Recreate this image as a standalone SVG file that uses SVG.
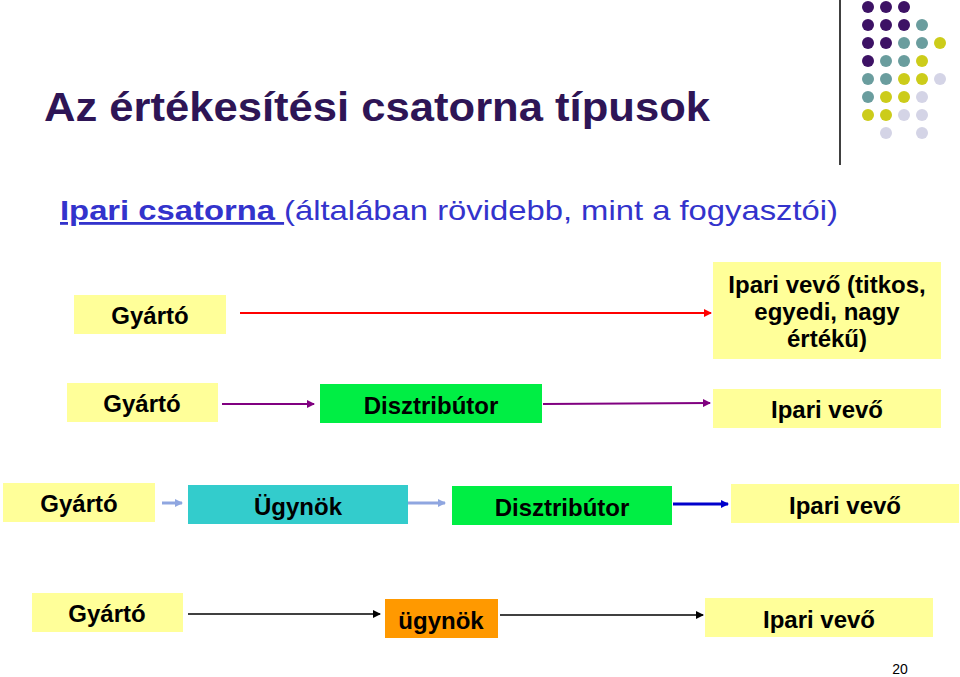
<svg xmlns="http://www.w3.org/2000/svg" width="960" height="677" viewBox="0 0 960 677">
<style>
text{font-family:"Liberation Sans",Arial,sans-serif;font-weight:bold;fill:#000}
.y{fill:#ffff99}
.n{font-size:24px;text-anchor:middle}
.P{fill:#3d1265}.T{fill:#6a9d9e}.Y{fill:#cccc1a}.L{fill:#d4d4e6}
</style>
<defs>
<marker id="mr" markerWidth="8" markerHeight="8" refX="7" refY="4" orient="auto" markerUnits="userSpaceOnUse"><path d="M0,0L8,4L0,8z" fill="#ff0000"/></marker>
<marker id="mp" markerWidth="8" markerHeight="8" refX="7" refY="4" orient="auto" markerUnits="userSpaceOnUse"><path d="M0,0L8,4L0,8z" fill="#800080"/></marker>
<marker id="ml" markerWidth="8" markerHeight="8" refX="7" refY="4" orient="auto" markerUnits="userSpaceOnUse"><path d="M0,0L8,4L0,8z" fill="#8fa6e0"/></marker>
<marker id="mb" markerWidth="8" markerHeight="8" refX="7" refY="4" orient="auto" markerUnits="userSpaceOnUse"><path d="M0,0L8,4L0,8z" fill="#0000cc"/></marker>
<marker id="mk" markerWidth="8" markerHeight="8" refX="7" refY="4" orient="auto" markerUnits="userSpaceOnUse"><path d="M0,0L8,4L0,8z" fill="#000"/></marker>
</defs>
<line x1="840" y1="0" x2="840" y2="165" stroke="#000" stroke-width="1.5"/>
<g id="dots">
<circle class="P" cx="868" cy="7" r="6"/><circle class="P" cx="886" cy="7" r="6"/><circle class="P" cx="904" cy="7" r="6"/>
<circle class="P" cx="868" cy="25" r="6"/><circle class="P" cx="886" cy="25" r="6"/><circle class="P" cx="904" cy="25" r="6"/><circle class="T" cx="922" cy="25" r="6"/>
<circle class="P" cx="868" cy="43" r="6"/><circle class="P" cx="886" cy="43" r="6"/><circle class="T" cx="904" cy="43" r="6"/><circle class="T" cx="922" cy="43" r="6"/><circle class="Y" cx="940" cy="43" r="6"/>
<circle class="P" cx="868" cy="61" r="6"/><circle class="T" cx="886" cy="61" r="6"/><circle class="T" cx="904" cy="61" r="6"/><circle class="Y" cx="922" cy="61" r="6"/>
<circle class="T" cx="868" cy="79" r="6"/><circle class="T" cx="886" cy="79" r="6"/><circle class="Y" cx="904" cy="79" r="6"/><circle class="Y" cx="922" cy="79" r="6"/><circle class="L" cx="940" cy="79" r="6"/>
<circle class="T" cx="868" cy="97" r="6"/><circle class="Y" cx="886" cy="97" r="6"/><circle class="Y" cx="904" cy="97" r="6"/><circle class="L" cx="922" cy="97" r="6"/>
<circle class="Y" cx="868" cy="115" r="6"/><circle class="Y" cx="886" cy="115" r="6"/><circle class="L" cx="904" cy="115" r="6"/><circle class="L" cx="922" cy="115" r="6"/>
<circle class="L" cx="886" cy="133" r="6"/><circle class="L" cx="922" cy="133" r="6"/>
</g>
<text x="44" y="121" style="font-size:41px;fill:#2e1556" textLength="666" lengthAdjust="spacingAndGlyphs">Az értékesítési csatorna típusok</text>
<text x="60" y="220" style="font-size:28px;font-weight:normal;fill:#3333cc" textLength="778" lengthAdjust="spacingAndGlyphs"><tspan text-decoration="underline" font-weight="bold">Ipari csatorna </tspan>(általában rövidebb, mint a fogyasztói)</text>
<g id="connectors">
<line x1="240" y1="313" x2="711" y2="313" stroke="#ff0000" stroke-width="2" marker-end="url(#mr)"/>
<line x1="222" y1="404" x2="314" y2="404" stroke="#800080" stroke-width="2" marker-end="url(#mp)"/>
<line x1="543" y1="404" x2="710" y2="403" stroke="#800080" stroke-width="2" marker-end="url(#mp)"/>
<line x1="162" y1="503" x2="182" y2="503" stroke="#8fa6e0" stroke-width="3" marker-end="url(#ml)"/>
<line x1="408" y1="503" x2="445" y2="503" stroke="#8fa6e0" stroke-width="3" marker-end="url(#ml)"/>
<line x1="673" y1="504" x2="728" y2="504" stroke="#0000cc" stroke-width="3" marker-end="url(#mb)"/>
<line x1="188" y1="614" x2="380" y2="614" stroke="#000" stroke-width="1.5" marker-end="url(#mk)"/>
<line x1="500" y1="615" x2="703" y2="615" stroke="#000" stroke-width="1.5" marker-end="url(#mk)"/>
</g>
<g id="n1"><rect class="y" x="74" y="295" width="152" height="39"/><text class="n" x="150" y="324">Gyártó</text></g>
<g id="n2"><rect class="y" x="713" y="262" width="228" height="97"/><text class="n" x="827" y="293">Ipari vevő (titkos,</text><text class="n" x="827" y="320">egyedi, nagy</text><text class="n" x="827" y="347">értékű)</text></g>
<g id="n3"><rect class="y" x="67" y="383" width="151" height="39"/><text class="n" x="142" y="412">Gyártó</text></g>
<g id="n4"><rect x="320" y="384" width="222" height="39" fill="#00ee44"/><text class="n" x="431" y="414">Disztribútor</text></g>
<g id="n5"><rect class="y" x="713" y="389" width="228" height="39"/><text class="n" x="827" y="418">Ipari vevő</text></g>
<g id="n6"><rect class="y" x="3" y="483" width="152" height="39"/><text class="n" x="79" y="512">Gyártó</text></g>
<g id="n7"><rect x="188" y="485" width="220" height="39" fill="#33cccc"/><text class="n" x="298" y="515">Ügynök</text></g>
<g id="n8"><rect x="452" y="486" width="220" height="39" fill="#00ee44"/><text class="n" x="562" y="516">Disztribútor</text></g>
<g id="n9"><rect class="y" x="731" y="484" width="228" height="39"/><text class="n" x="845" y="514">Ipari vevő</text></g>
<g id="n10"><rect class="y" x="32" y="593" width="151" height="39"/><text class="n" x="107" y="622">Gyártó</text></g>
<g id="n11"><rect x="385" y="599" width="113" height="39" fill="#ff9900"/><text class="n" x="441" y="629">ügynök</text></g>
<g id="n12"><rect class="y" x="705" y="598" width="228" height="39"/><text class="n" x="819" y="628">Ipari vevő</text></g>
<text x="900" y="674" style="font-size:14px;font-weight:normal;text-anchor:middle">20</text>
</svg>
